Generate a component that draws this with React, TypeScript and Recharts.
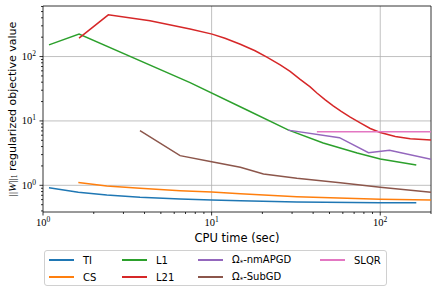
import React from "react";
import {
  LineChart,
  Line,
  XAxis,
  YAxis,
  CartesianGrid,
  ReferenceArea,
  Label,
} from "recharts";

// CPU time (sec) / objective value per method
const TI_X = [1.085, 1.62, 2.39, 3.76, 6.5, 10, 14.8, 32, 100, 163.6];
const TI_Y = [0.918, 0.778, 0.707, 0.65, 0.612, 0.59, 0.576, 0.55, 0.536, 0.536];

const CS_X = [1.62, 2.39, 3.76, 6.5, 10, 14.8, 32, 100, 200];
const CS_Y = [1.11, 0.975, 0.898, 0.824, 0.787, 0.74, 0.665, 0.606, 0.59];

const L1_X = [1.085, 1.636, 7.45, 16.2, 28.4, 45.9, 73, 100, 163.6];
const L1_Y = [152, 223, 39.4, 14.8, 7.25, 4.55, 3.18, 2.56, 2.07];

const L21_X = [1.636, 2.44, 4.31, 7.45, 10.07, 12.0, 14.8, 18.1, 21.4, 25.5, 29.2, 33.5, 38.4, 42.1, 47.2, 52.6, 58.7, 66.4, 76.1, 87.2, 100, 122.8, 150.7, 200];
const L21_Y = [193, 445, 359, 267, 223, 192, 155, 123, 97.2, 74.3, 58.9, 44.2, 33.8, 27.2, 21.2, 17.1, 14.1, 11.5, 9.31, 7.64, 6.63, 5.74, 5.31, 5.06];

const NMAPGD_X = [28.4, 57.3, 85.2, 113.5, 200];
const NMAPGD_Y = [7.2, 5.5, 3.21, 3.5, 2.54];

const SUBGD_X = [3.76, 6.5, 10, 14.8, 20.3, 32, 57.9, 100, 200];
const SUBGD_Y = [7.07, 2.89, 2.33, 1.905, 1.5, 1.285, 1.1, 0.93, 0.78];

const SLQR_X = [42.1, 200];
const SLQR_Y = [6.82, 6.82];

const X_TICKS = [1, 2, 3, 4, 5, 6, 7, 8, 9, 10, 20, 30, 40, 50, 60, 70, 80, 90, 100, 200];
const Y_TICKS = [0.4, 0.5, 0.6, 0.7, 0.8, 0.9, 1, 2, 3, 4, 5, 6, 7, 8, 9, 10, 20, 30, 40, 50, 60, 70, 80, 90, 100, 200, 300, 400, 500, 600];

const zip = (xs: number[], ys: number[]) => xs.map((x, i) => ({ x, y: ys[i] }));

type Series = { key: string; name: React.ReactNode; color: string; data: { x: number; y: number }[] };

const Omega = ({ rest }: { rest: string }) => (
  <span>
    Ω<sub style={{ fontSize: 7, verticalAlign: "-2px" }}>*</sub>
    {rest}
  </span>
);

const series: Series[] = [
  { key: "TI", name: "TI", color: "#1f77b4", data: zip(TI_X, TI_Y) },
  { key: "CS", name: "CS", color: "#ff7f0e", data: zip(CS_X, CS_Y) },
  { key: "L1", name: "L1", color: "#2ca02c", data: zip(L1_X, L1_Y) },
  { key: "L21", name: "L21", color: "#d62728", data: zip(L21_X, L21_Y) },
  { key: "nm", name: <Omega rest="-nmAPGD" />, color: "#9467bd", data: zip(NMAPGD_X, NMAPGD_Y) },
  { key: "sub", name: <Omega rest="-SubGD" />, color: "#8c564b", data: zip(SUBGD_X, SUBGD_Y) },
  { key: "SLQR", name: "SLQR", color: "#e377c2", data: zip(SLQR_X, SLQR_Y) },
];

const MATH = "'Liberation Serif', 'DejaVu Serif', serif";
const SANS = "'DejaVu Sans', sans-serif";

const isMajor = (v: number) => Math.abs(Math.log10(v) - Math.round(Math.log10(v))) < 1e-9;

const XTick = (props: any) => {
  const { x, y, payload } = props;
  const v = payload.value as number;
  const major = isMajor(v);
  return (
    <g>
      <line x1={x} x2={x} y1={y} y2={y + (major ? 3.5 : 2)} stroke="#000" strokeWidth={0.8} />
      {major && (
        <text x={x} y={y + 14} textAnchor="middle" fontFamily={MATH} fontSize={10.5} fill="#000">
          10
          <tspan dy={-4} fontSize={7.5}>
            {Math.round(Math.log10(v))}
          </tspan>
        </text>
      )}
    </g>
  );
};

const YTick = (props: any) => {
  const { x, y, payload } = props;
  const v = payload.value as number;
  const major = isMajor(v);
  return (
    <g>
      <line x1={x} x2={x - (major ? 3.5 : 2)} y1={y} y2={y} stroke="#000" strokeWidth={0.8} />
      {major && (
        <text x={x - 7} y={y + 3.5} textAnchor="end" fontFamily={MATH} fontSize={10.5} fill="#000">
          10
          <tspan dy={-4} fontSize={7.5}>
            {Math.round(Math.log10(v))}
          </tspan>
        </text>
      )}
    </g>
  );
};

const YLabel = () => (
  <text
    x={12}
    y={109}
    transform="rotate(-90 12 109)"
    textAnchor="middle"
    dominantBaseline="central"
    fontFamily={SANS}
    fontSize={11}
    fill="#000"
  >
    <tspan fontFamily={MATH}>||</tspan>
    <tspan fontFamily={MATH} fontStyle="italic">W</tspan>
    <tspan fontFamily={MATH}>||</tspan>
    <tspan fontFamily={MATH} fontSize={7.5} dy={2}>1</tspan>
    <tspan dy={-2}> regularized objective value</tspan>
  </text>
);

const legendPos = [
  { left: 4, top: 0 },
  { left: 4, top: 17 },
  { left: 77, top: 0 },
  { left: 77, top: 17 },
  { left: 153, top: 0 },
  { left: 153, top: 17 },
  { left: 275, top: 0 },
];

const App: React.FC = () => {
  return (
    <div style={{ position: "absolute", left: 0, top: 0, width: 436, height: 291, background: "#fff" }}>
      <LineChart width={436} height={291} margin={{ top: 6, right: 5, bottom: 0, left: 0 }}>
        <CartesianGrid
          stroke="#b0b0b0"
          strokeWidth={0.8}
          horizontalValues={[1, 10, 100]}
          verticalValues={[10, 100]}
        />
        <XAxis
          type="number"
          dataKey="x"
          scale="log"
          domain={[1, 200]}
          allowDataOverflow
          ticks={X_TICKS}
          interval={0}
          tick={<XTick />}
          tickLine={false}
          tickSize={0}
          tickMargin={0}
          axisLine={false}
          height={79}
        >
          <Label
            content={() => (
              <text x={237} y={242} textAnchor="middle" fontFamily={SANS} fontSize={11.5} fill="#000">
                CPU time (sec)
              </text>
            )}
          />
        </XAxis>
        <YAxis
          type="number"
          dataKey="y"
          scale="log"
          domain={[0.385, 610]}
          allowDataOverflow
          ticks={Y_TICKS}
          interval={0}
          tick={<YTick />}
          tickLine={false}
          tickSize={0}
          tickMargin={0}
          axisLine={false}
          width={43}
        >
          <Label content={() => <YLabel />} />
        </YAxis>
        {series.map((s) => (
          <Line
            key={s.key}
            data={s.data}
            dataKey="y"
            type="linear"
            stroke={s.color}
            strokeWidth={1.5}
            dot={false}
            activeDot={false}
            isAnimationActive={false}
          />
        ))}
        <ReferenceArea x1={1} x2={200} y1={0.385} y2={610} fill="none" stroke="#000" strokeWidth={0.8} ifOverflow="visible" />
      </LineChart>
      <div
        style={{
          position: "absolute",
          left: 44,
          top: 250,
          width: 343,
          height: 36,
          border: "1px solid #d0d0d0",
          borderRadius: 3,
          boxSizing: "border-box",
          fontFamily: SANS,
          fontSize: 10,
          color: "#000",
        }}
      >
        {series.map((s, i) => (
          <div
            key={s.key}
            style={{ position: "absolute", left: legendPos[i].left, top: legendPos[i].top + 2, display: "flex", alignItems: "center", height: 14, whiteSpace: "nowrap" }}
          >
            <div style={{ width: 25, height: 1.5, background: s.color, marginRight: 9 }} />
            {s.name}
          </div>
        ))}
      </div>
    </div>
  );
};

export default App;
